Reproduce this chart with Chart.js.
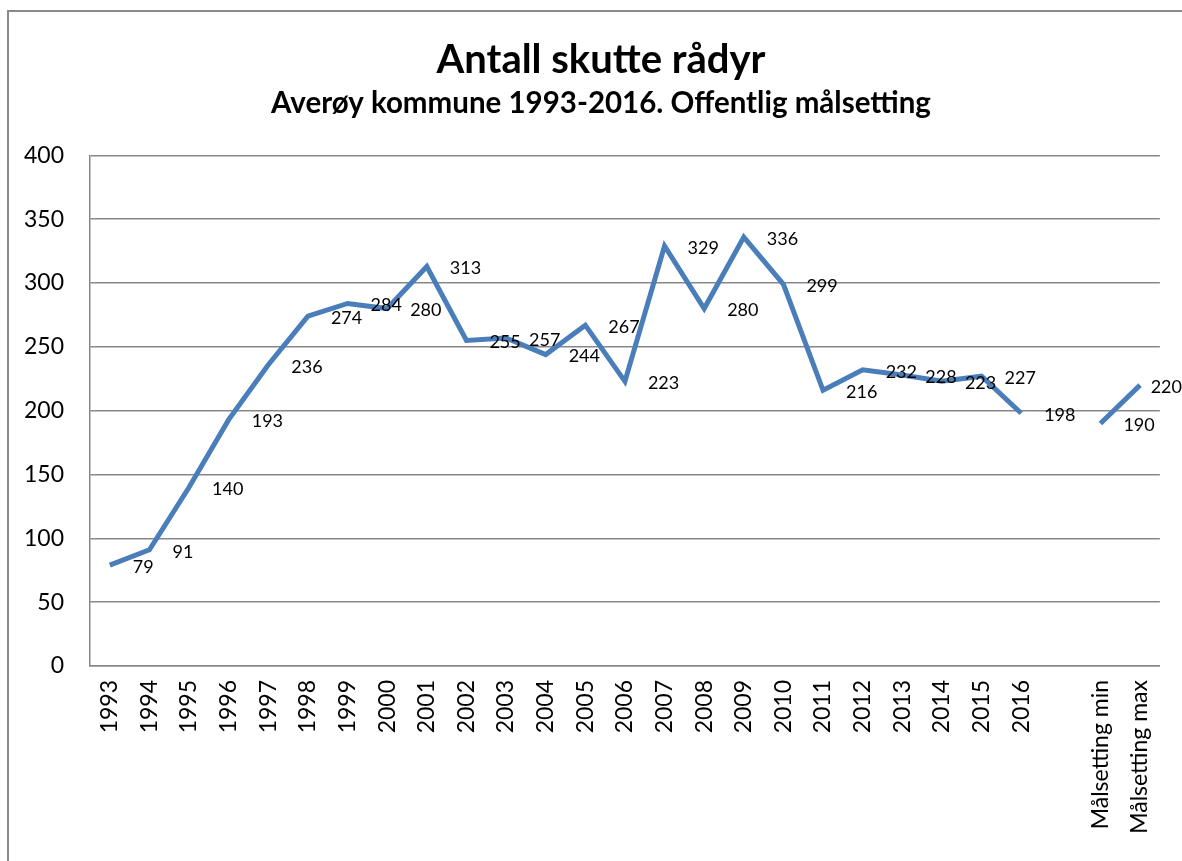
<!DOCTYPE html>
<html>
<head>
<meta charset="utf-8">
<script src="https://cdn.jsdelivr.net/npm/chart.js@4"></script>
<style>
  html, body { margin: 0; padding: 0; background: #fff; }
  #wrap { width: 1182px; height: 861px; position: relative; }
</style>
</head>
<body>
<div id="wrap"><canvas id="myChart"></canvas></div>
<script>
// categories, with one empty slot before the target values
const years = ["1993", "1994", "1995", "1996", "1997", "1998", "1999", "2000", "2001", "2002",
    "2003", "2004", "2005", "2006", "2007", "2008", "2009", "2010", "2011", "2012",
    "2013", "2014", "2015", "2016"];
const targetLabels = ["Målsetting min", "Målsetting max"];
const categories = [...years, "", ...targetLabels];

// shot roe deer per year, then the public targets
const shotValues = [79, 91, 140, 193, 236, 274, 284, 280, 313, 255,
    257, 244, 267, 223, 329, 280, 336, 299, 216, 232,
    228, 223, 227, 198];
const targetValues = [190, 220];
const seriesValues = [...shotValues, null, ...targetValues];

const yTicks = [0, 50, 100, 150, 200, 250, 300, 350, 400];

const FONT = "Lato";
const gridColor = "#878787";

// frame round the whole chart
const framePlugin = {
    id: "frame",
    beforeDraw: (chart) => {
        const ctx = chart.ctx;
        ctx.save();
        ctx.strokeStyle = "#8a8a8a";
        ctx.lineWidth = 2;
        ctx.strokeRect(8, 11, 1300, 1000);
        ctx.restore();
    },
};

// value labels right of every point, kept inside the canvas
const valueLabels = {
    id: "valueLabels",
    afterDatasetsDraw: (chart) => {
        const ctx = chart.ctx;
        const meta = chart.getDatasetMeta(0);
        const data = chart.data.datasets[0].data;
        ctx.save();
        ctx.font = `18px ${FONT}`;
        ctx.fillStyle = "#000";
        ctx.textAlign = "left";
        ctx.textBaseline = "middle";
        meta.data.forEach((pt, i) => {
            if (data[i] === null || pt.skip) return;
            const txt = String(data[i]);
            const w = ctx.measureText(txt).width;
            const x = Math.min(pt.x + 23, chart.width - w);
            ctx.fillText(txt, x, pt.y + 2);
        });
        ctx.restore();
    },
};

const ctx = document.getElementById("myChart").getContext("2d");

const myChart = new Chart(ctx, {
    type: "line",
    data: {
        labels: categories,
        datasets: [
            {
                label: "Antall skutte rådyr",
                data: seriesValues,
                borderColor: "#4a7ebb",
                backgroundColor: "#4a7ebb",
                borderWidth: 5,
                pointRadius: 0,
                pointHoverRadius: 0,
                tension: 0,
                spanGaps: false,
                fill: false,
            },
        ],
    },
    options: {
        responsive: true,
        maintainAspectRatio: false,
        animation: false,
        events: [],
        // left padding keeps the titles centred on the outer frame
        layout: { padding: { left: 20, right: 0, top: 0, bottom: 0 } },
        plugins: {
            legend: { display: false },
            tooltip: { enabled: false },
            title: {
                display: true,
                text: "Antall skutte rådyr",
                color: "#000",
                font: { family: FONT, size: 40, weight: "bold", lineHeight: 1.2 },
                padding: { top: 36, bottom: 0 },
            },
            subtitle: {
                display: true,
                text: "Averøy kommune 1993-2016. Offentlig målsetting",
                color: "#000",
                font: { family: FONT, size: 29.5, weight: "bold", lineHeight: 1.2 },
                padding: { top: 2, bottom: 34 },
            },
        },
        scales: {
            x: {
                offset: true,
                grid: { display: false, drawTicks: false },
                border: { display: true, color: gridColor, width: 1.5 },
                ticks: {
                    color: "#000",
                    font: { family: FONT, size: 23 },
                    minRotation: 90,
                    maxRotation: 90,
                    autoSkip: false,
                    padding: 14,
                },
                afterFit: (scale) => { scale.height = 195; },
            },
            y: {
                min: 0,
                max: 400,
                afterBuildTicks: (scale) => {
                    scale.ticks = yTicks.map((v) => ({ value: v }));
                },
                grid: { color: gridColor, lineWidth: 1.5, drawTicks: false },
                border: { display: true, color: gridColor, width: 1.5 },
                ticks: {
                    color: "#000",
                    font: { family: FONT, size: 23 },
                    padding: 26,
                },
                afterFit: (scale) => { scale.width = 70; },
            },
            // empty right axis, only to leave room right of the plot
            yRight: {
                position: "right",
                min: 0,
                max: 400,
                grid: { display: false, drawTicks: false },
                border: { display: false },
                ticks: { display: false },
                afterFit: (scale) => { scale.width = 19; },
            },
        },
    },
    plugins: [framePlugin, valueLabels],
});
</script>
</body>
</html>
